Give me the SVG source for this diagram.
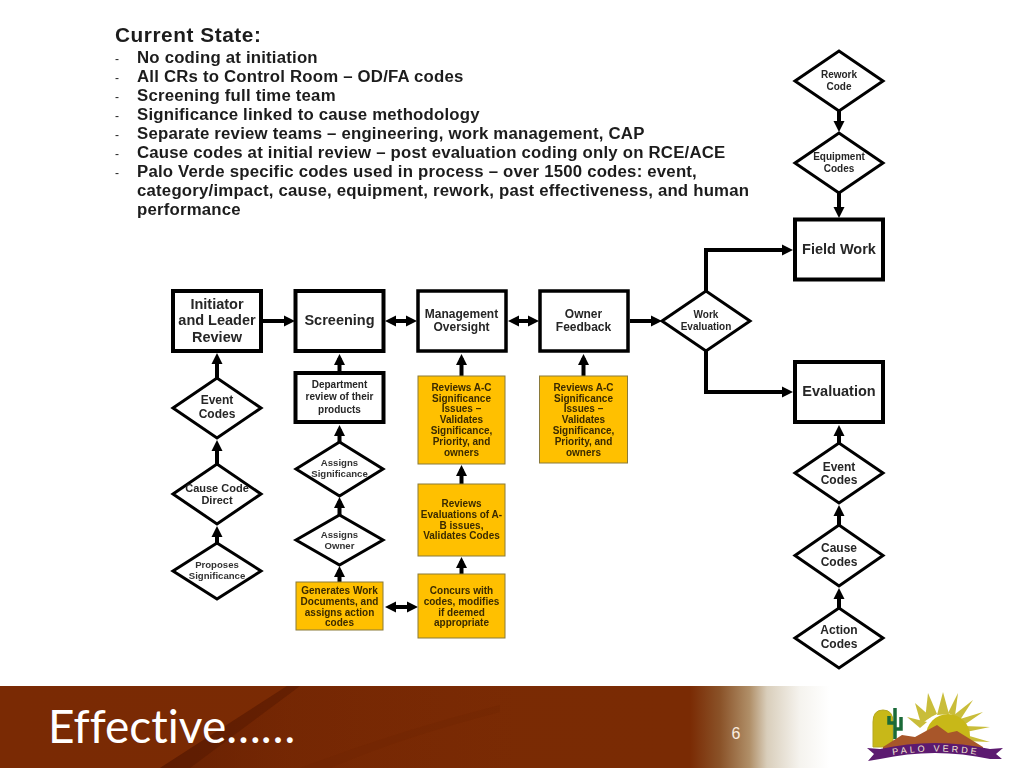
<svg xmlns="http://www.w3.org/2000/svg" width="1024" height="768" viewBox="0 0 1024 768">
<style>
text{font-family:"Liberation Sans",Arial,sans-serif;font-weight:bold;text-anchor:middle;fill:#262626}
.b{fill:#fff;stroke:#000;stroke-width:4}
.t{fill:#fff;stroke:#000;stroke-width:3.5}
.d{fill:#fff;stroke:#000;stroke-width:3}
.y{fill:#ffc000;stroke:#8a7a3a;stroke-width:1}
.c{fill:none;stroke:#000;stroke-width:4}
.body text{font-size:16.8px;letter-spacing:.2px;text-anchor:start;fill:#1c1c1c}
.l{font-size:14.5px}.m{font-size:12px}.s{font-size:10px}.xs{font-size:9.6px;fill:#333}
.o{font-size:10px;fill:#3a2a00}
.ray{fill:#c9bd3a}
</style>
<defs>
<marker id="a" markerUnits="userSpaceOnUse" markerWidth="12" markerHeight="12" refX="7" refY="6" orient="auto-start-reverse"><path d="M0 .5L11 6L0 11.500Z" fill="#000"/></marker>
<linearGradient id="bar" x1="0" x2="1" y1="0" y2="0"><stop offset="0" stop-color="#7a2a04"/><stop offset=".674" stop-color="#7a2b04"/><stop offset=".703" stop-color="#8a5228"/><stop offset=".732" stop-color="#b08f68"/><stop offset=".749" stop-color="#d9cebb"/><stop offset=".781" stop-color="#f5f3ee"/><stop offset=".81" stop-color="#fff"/></linearGradient>
<linearGradient id="st" x1="0" x2="1" y1="0" y2="0"><stop offset="0" stop-color="#571902" stop-opacity=".9"/><stop offset=".35" stop-color="#6a2002" stop-opacity=".55"/><stop offset="1" stop-color="#722102" stop-opacity="0"/></linearGradient>
<filter id="soft" x="-2%" y="-2%" width="104%" height="104%"><feGaussianBlur stdDeviation="0.4"/></filter>
<path id="rib" d="M882 757Q935 746 990 757"/>
</defs>
<rect width="1024" height="768" fill="#fff"/>
<g id="footer">
<rect y="686" width="1024" height="82" fill="url(#bar)"/>
<path d="M160 768L287 686H520V768Z" fill="url(#st)" opacity=".6"/>
<path d="M160 768L287 686L300 686L190 768Z" fill="#571902" opacity=".55"/>
<path d="M300 768Q400 730 500 705L500 712Q400 738 330 768Z" fill="#6e2503" opacity=".3"/>
<text x="48" y="743" style="font-family:Lato,'Open Sans',sans-serif;font-weight:normal;font-size:46px;font-variant-ligatures:none;text-anchor:start;fill:#fff">Effective……</text>
<text x="736" y="739" style="font-family:'Liberation Sans',sans-serif;font-weight:normal;font-size:16px;fill:#fbeee0">6</text>
</g>
<g id="logo">
<path class="ray" d="M937 715L943 692L949 714Z"/><path class="ray" d="M925 720L928 693L937 714Z"/><path class="ray" d="M921 724L915 703L931 717Z"/><path class="ray" d="M920 728L907 717L927 722Z"/>
<path class="ray" d="M948 713L958 693L955 716Z"/><path class="ray" d="M954 715L973 700L960 720Z"/><path class="ray" d="M960 719L983 712L964 725Z"/><path class="ray" d="M964 726L990 727L966 732Z"/><path class="ray" d="M966 735L990 742L964 741Z"/>
<path d="M926 745V736A22 22 0 0 1 970 736V745Z" fill="#c8b818"/>
<path d="M873 747V722Q873 710 883 710Q893 710 893 722V747Z" fill="#c8b818" stroke="#b5a820" stroke-width="1"/>
<path d="M895 739V708M895 729H901V717M895 723H889V716" fill="none" stroke="#1a6a38" stroke-width="3.500"/>
<path d="M883 747L902 735L915 737L937 725L948 733L957 731L983 747L983 752H883Z" fill="#a8562a"/>
<path d="M867 748L880 749Q935 737 990 749L1003 748L996 754L1002 759L990 759Q935 747 880 759L868 761L874 754Z" fill="#5c1a70"/>
<text style="font-size:9px;letter-spacing:3px;fill:#f2e8d0;font-weight:normal"><textPath href="#rib" startOffset="50%">PALO VERDE</textPath></text>
</g>
<g filter="url(#soft)">
<g class="body">
<text x="115" y="42" style="font-size:20.8px;letter-spacing:.55px">Current State:</text>
<text x="115" y="63" style="font-size:12px;font-weight:normal">-</text><text x="115" y="82" style="font-size:12px;font-weight:normal">-</text><text x="115" y="101" style="font-size:12px;font-weight:normal">-</text><text x="115" y="120" style="font-size:12px;font-weight:normal">-</text><text x="115" y="139" style="font-size:12px;font-weight:normal">-</text><text x="115" y="158" style="font-size:12px;font-weight:normal">-</text><text x="115" y="177" style="font-size:12px;font-weight:normal">-</text>
<text x="137" y="63">No coding at initiation</text>
<text x="137" y="82">All CRs to Control Room – OD/FA codes</text>
<text x="137" y="101">Screening full time team</text>
<text x="137" y="120">Significance linked to cause methodology</text>
<text x="137" y="139">Separate review teams – engineering, work management, CAP</text>
<text x="137" y="158">Cause codes at initial review – post evaluation coding only on RCE/ACE</text>
<text x="137" y="177">Palo Verde specific codes used in process – over 1500 codes: event,</text>
<text x="137" y="196">category/impact, cause, equipment, rework, past effectiveness, and human</text>
<text x="137" y="215">performance</text>
</g>
<g id="connectors">
<path class="c" marker-end="url(#a)" d="M262 321H291"/>
<path class="c" marker-start="url(#a)" marker-end="url(#a)" d="M389 321H413"/>
<path class="c" marker-start="url(#a)" marker-end="url(#a)" d="M512 321H535"/>
<path class="c" marker-end="url(#a)" d="M630 321H658"/>
<path class="c" marker-end="url(#a)" d="M706 291V250H789"/>
<path class="c" marker-end="url(#a)" d="M706 351V392H789"/>
<path class="c" marker-end="url(#a)" d="M839 111V128"/>
<path class="c" marker-end="url(#a)" d="M839 193V214"/>
<path class="c" marker-end="url(#a)" d="M839 443V429"/>
<path class="c" marker-end="url(#a)" d="M839 525V509"/>
<path class="c" marker-end="url(#a)" d="M839 608V592"/>
<path class="c" marker-end="url(#a)" d="M217 378V357"/>
<path class="c" marker-end="url(#a)" d="M217 464V444"/>
<path class="c" marker-end="url(#a)" d="M217 543V530"/>
<path class="c" marker-end="url(#a)" d="M339.500 372V358"/>
<path class="c" marker-end="url(#a)" d="M339.500 442V429"/>
<path class="c" marker-end="url(#a)" d="M339.500 515V501"/>
<path class="c" marker-end="url(#a)" d="M339.500 582V570"/>
<path class="c" marker-start="url(#a)" marker-end="url(#a)" d="M389 607H414"/>
<path class="c" marker-end="url(#a)" d="M461.500 574V561"/>
<path class="c" marker-end="url(#a)" d="M461.500 484V469"/>
<path class="c" marker-end="url(#a)" d="M461.500 376V358"/>
<path class="c" marker-end="url(#a)" d="M583.500 376V358"/>
</g>
<g id="n-initiator"><rect class="b" x="173" y="291" width="88" height="60"/><text class="l" x="217" y="309">Initiator</text><text class="l" x="217" y="325">and Leader</text><text class="l" x="217" y="342">Review</text></g>
<g id="n-screening"><rect class="b" x="295.500" y="291" width="88" height="60"/><text class="l" x="339.500" y="325">Screening</text></g>
<g id="n-management"><rect class="t" x="418" y="291" width="88" height="60"/><text class="m" x="461.500" y="318">Management</text><text class="m" x="461.500" y="331">Oversight</text></g>
<g id="n-owner"><rect class="t" x="540" y="291" width="88" height="60"/><text class="m" x="583.500" y="318">Owner</text><text class="m" x="583.500" y="331">Feedback</text></g>
<g id="n-field"><rect class="b" x="795" y="219.500" width="88" height="60"/><text class="l" x="839" y="254">Field Work</text></g>
<g id="n-evaluation"><rect class="b" x="795" y="362" width="88" height="60"/><text class="l" x="839" y="396">Evaluation</text></g>
<g id="n-workeval"><path class="d" d="M662 321L706 291L750 321L706 351Z"/><text class="s" x="706" y="318">Work</text><text class="s" x="706" y="330">Evaluation</text></g>
<g id="n-rework"><path class="d" d="M795 81L839 51L883 81L839 111Z"/><text class="s" x="839" y="78">Rework</text><text class="s" x="839" y="90">Code</text></g>
<g id="n-equipment"><path class="d" d="M795 163L839 133L883 163L839 193Z"/><text class="s" x="839" y="160">Equipment</text><text class="s" x="839" y="172">Codes</text></g>
<g id="n-event-r"><path class="d" d="M795 473L839 443L883 473L839 503Z"/><text class="m" x="839" y="471">Event</text><text class="m" x="839" y="484">Codes</text></g>
<g id="n-cause-r"><path class="d" d="M795 555.500L839 525L883 555.500L839 586Z"/><text class="m" x="839" y="552">Cause</text><text class="m" x="839" y="566">Codes</text></g>
<g id="n-action"><path class="d" d="M795 638L839 608L883 638L839 668Z"/><text class="m" x="839" y="634">Action</text><text class="m" x="839" y="648">Codes</text></g>
<g id="n-event-l"><path class="d" d="M173 408L217 378L261 408L217 438Z"/><text class="m" x="217" y="404">Event</text><text class="m" x="217" y="418">Codes</text></g>
<g id="n-causedirect"><path class="d" d="M173 494L217 464L261 494L217 524Z"/><text class="s" x="217" y="492" style="font-size:11px">Cause Code</text><text class="s" x="217" y="504" style="font-size:11px">Direct</text></g>
<g id="n-proposes"><path class="d" d="M173 571L217 543L261 571L217 599Z"/><text class="xs" x="217" y="568">Proposes</text><text class="xs" x="217" y="579">Significance</text></g>
<g id="n-dept"><rect class="b" x="295.500" y="373" width="88" height="49"/><text class="s" x="339.500" y="388">Department</text><text class="s" x="339.500" y="400">review of their</text><text class="s" x="339.500" y="413">products</text></g>
<g id="n-assignsig"><path class="d" d="M296 469L339.500 442L383 469L339.500 496Z"/><text class="xs" x="339.500" y="466">Assigns</text><text class="xs" x="339.500" y="477">Significance</text></g>
<g id="n-assignown"><path class="d" d="M296 540L339.500 515L383 540L339.500 565Z"/><text class="xs" x="339.500" y="538">Assigns</text><text class="xs" x="339.500" y="549">Owner</text></g>
<g id="n-generates"><rect class="y" x="296" y="582" width="87" height="48"/><text class="o" x="339.500" y="594">Generates Work</text><text class="o" x="339.500" y="605">Documents, and</text><text class="o" x="339.500" y="616">assigns action</text><text class="o" x="339.500" y="626">codes</text></g>
<g id="n-concurs"><rect class="y" x="418" y="574" width="87" height="64"/><text class="o" x="461.500" y="594">Concurs with</text><text class="o" x="461.500" y="605">codes, modifies</text><text class="o" x="461.500" y="616">if deemed</text><text class="o" x="461.500" y="626">appropriate</text></g>
<g id="n-revieweval"><rect class="y" x="418" y="484" width="87" height="72"/><text class="o" x="461.500" y="507">Reviews</text><text class="o" x="461.500" y="518">Evaluations of A-</text><text class="o" x="461.500" y="529">B issues,</text><text class="o" x="461.500" y="539">Validates Codes</text></g>
<g id="n-reviewac"><rect class="y" x="418" y="376" width="87" height="88"/><text class="o" x="461.500" y="391">Reviews A-C</text><text class="o" x="461.500" y="402">Significance</text><text class="o" x="461.500" y="412">Issues –</text><text class="o" x="461.500" y="423">Validates</text><text class="o" x="461.500" y="434">Significance,</text><text class="o" x="461.500" y="445">Priority, and</text><text class="o" x="461.500" y="456">owners</text></g>
<g id="n-reviewac2"><rect class="y" x="539.500" y="376" width="88" height="87"/><text class="o" x="583.500" y="391">Reviews A-C</text><text class="o" x="583.500" y="402">Significance</text><text class="o" x="583.500" y="412">Issues –</text><text class="o" x="583.500" y="423">Validates</text><text class="o" x="583.500" y="434">Significance,</text><text class="o" x="583.500" y="445">Priority, and</text><text class="o" x="583.500" y="456">owners</text></g>
</g>
</svg>
